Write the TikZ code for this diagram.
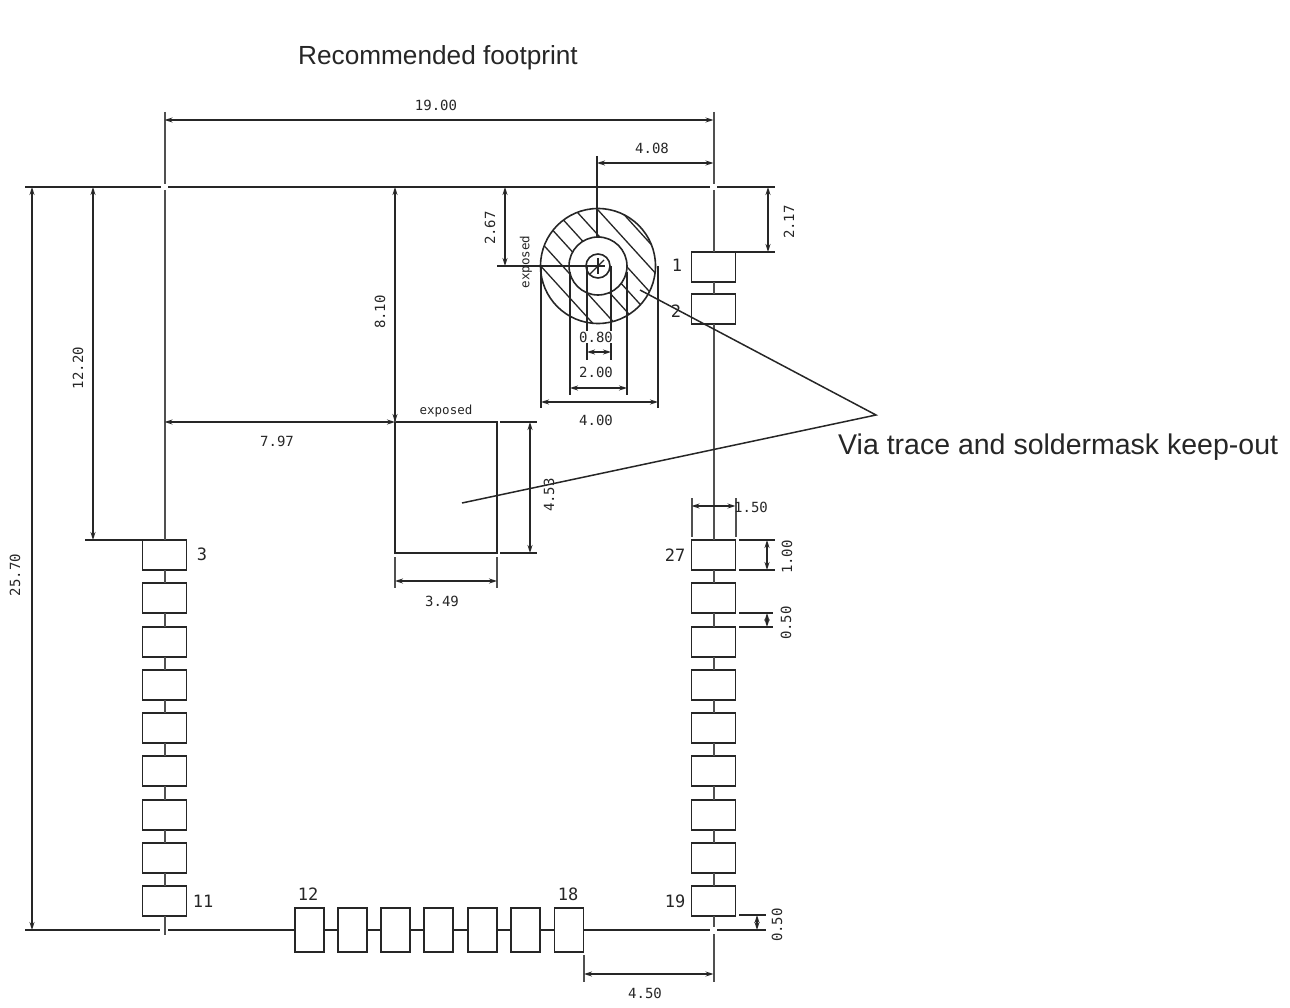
\documentclass[tikz,border=0pt]{standalone}
\usepackage{fontspec}
\setmainfont{Liberation Sans}
\newfontfamily\cadfont{DejaVu Sans Mono}
\usetikzlibrary{arrows.meta}
\definecolor{ink}{HTML}{262626}
\definecolor{soft}{HTML}{505050}
\tikzset{
  line/.style={draw=ink,line width=1.6pt},
  softline/.style={draw=soft,line width=2pt},
  ext/.style={draw=ink,line width=1.4pt},
  dimline/.style={draw=ink,line width=1.2pt,{Stealth[length=8pt,width=5pt]}-{Stealth[length=8pt,width=5pt]}},
  padv/.style={draw=ink,line width=1.8pt,rectangle,minimum width=44pt,minimum height=30pt,inner sep=0pt,outer sep=0pt},
  padh/.style={draw=ink,line width=1.8pt,rectangle,minimum width=29pt,minimum height=44pt,inner sep=0pt,outer sep=0pt},
  dimtext/.style={font=\cadfont\fontsize{14}{14}\selectfont,text=ink,inner sep=0pt},
  pinlabel/.style={font=\cadfont\fontsize{17}{17}\selectfont,text=ink,inner sep=0pt},
  headtext/.style={font=\fontsize{26.2}{26.2}\selectfont,text=ink,inner sep=0pt},
  viatext/.style={font=\fontsize{28.5}{28.5}\selectfont,text=ink,inner sep=0pt},
  hatch/.style={draw=ink,line width=1.3pt},
  leader/.style={draw=ink,line width=1.5pt}
}
\begin{document}
\begin{tikzpicture}[x=1pt,y=-1pt]
\useasboundingbox (0,0) rectangle (1290,1008);
% pads
\foreach \n/\y in {1/555,2/598,3/642,4/685,5/728,6/771,7/815,8/858,9/901}{
  \node[padv] (L\n) at (164.5,\y) {};
  \node[padv] (R\n) at (713.5,\y) {};
}
\node[padv] (P1) at (713.5,267) {};
\node[padv] (P2) at (713.5,309) {};
\foreach \n/\x in {1/309.5,2/352.5,3/395.5,4/438.5,5/482.5,6/525.5,7/569}{
  \node[padh] (B\n) at (\x,930) {};
}
% links between pads
\foreach \a/\b in {1/2,2/3,3/4,4/5,5/6,6/7,7/8,8/9}{
  \draw[softline] (L\a.south) -- (L\b.north);
  \draw[softline] (R\a.south) -- (R\b.north);
}
\foreach \a/\b in {1/2,2/3,3/4,4/5,5/6,6/7}{
  \draw[line] (B\a.east) -- (B\b.west);
}
\draw[softline] (P1.south) -- (P2.north);
% outline and extension lines
\draw[line] (25,187) -- (161,187);
\draw[line] (168,187) -- (710,187);
\draw[line] (717,187) -- (775,187);
\draw[softline] (164.5,112) -- (164.5,184);
\draw[softline] (164.5,190) -- (L1.north);
\draw[softline] (713.5,112) -- (713.5,184);
\draw[softline] (713.5,190) -- (P1.north);
\draw[softline] (P2.south) -- (R1.north);
\draw[softline] (L9.south) -- (164.5,935);
\draw[softline] (R9.south) -- (713.5,927);
\draw[softline] (713.5,934) -- (713.5,982);
\draw[line] (25,930) -- (160,930);
\draw[line] (168,930) -- (B1.west);
\draw[line] (B7.east) -- (710,930);
\draw[line] (717,930) -- (766,930);
% 19.00 4.08 25.70 12.20
\draw[dimline] (164.5,120) -- (713.5,120);
\node[dimtext] (d1900) at (436,105) {19.00};
\draw[ext] (597,156) -- (597,266);
\draw[dimline] (597,163) -- (713.5,163);
\node[dimtext] (d408) at (652,148) {4.08};
\draw[dimline] (32,187) -- (32,930);
\node[dimtext,rotate=90] (d2570) at (15,575) {25.70};
\draw[ext] (85,540) -- (L1.north west);
\draw[dimline] (93,187) -- (93,540);
\node[dimtext,rotate=90] (d1220) at (78,368) {12.20};
% keep-out circles with hatching
\coordinate (C) at (598,266);
\begin{scope}
  \clip (C) circle[radius=57.5];
  \foreach \c in {-80,-56,-31,-8,14,39,63}{
    \draw[hatch] (598-70,266+\c-77) -- (598+70,266+\c+77);
  }
\end{scope}
\fill[white] (C) circle[radius=29];
\draw[line] (C) circle[radius=57.5];
\draw[line] (C) circle[radius=29];
\draw[line] (C) circle[radius=12];
\draw[hatch] (590,274) -- (604,260);
\draw[ext] (589,266) -- (605,266);
\draw[ext] (598,258) -- (598,274);
% 2.67
\draw[ext] (497,266) -- (597,266);
\draw[dimline] (505,187) -- (505,266);
\node[dimtext,rotate=90] (d267) at (490,228) {2.67};
\node[dimtext,rotate=90,font=\cadfont\fontsize{12.5}{12.5}\selectfont] (exv) at (526,262) {exposed};
% stems below the circles
\draw[line] (541,266) -- (541,408);
\draw[line] (658,266) -- (658,408);
\draw[line] (570,272) -- (570,395);
\draw[line] (627,272) -- (627,395);
\draw[line] (587,266) -- (587,360);
\draw[line] (611,266) -- (611,360);
\draw[dimline] (587,352) -- (611,352);
\node[dimtext,fill=white,inner sep=1pt] (d080) at (596,337) {0.80};
\draw[dimline] (570,388) -- (627,388);
\node[dimtext,fill=white,inner sep=1pt] (d200) at (596,372) {2.00};
\draw[dimline] (541,402) -- (658,402);
\node[dimtext] (d400) at (596,420) {4.00};
% 2.17
\draw[ext] (P1.north east) -- (775,252);
\draw[dimline] (768,187) -- (768,252);
\node[dimtext,rotate=90] (d217) at (789,222) {2.17};
% exposed pad
\node[draw=ink,line width=1.8pt,rectangle,minimum width=102pt,minimum height=131pt,inner sep=0pt,outer sep=0pt] (EP) at (446,487.5) {};
\node[dimtext,font=\cadfont\fontsize{12.5}{12.5}\selectfont] (ext) at (446,411) {exposed};
\draw[softline] (395,190) -- (EP.north west);
\draw[dimline] (395,187) -- (395,422);
\node[dimtext,rotate=90] (d810) at (380,312) {8.10};
\draw[dimline] (164.5,422) -- (395,422);
\node[dimtext] (d797) at (277,441) {7.97};
\draw[ext] (500,422) -- (537,422);
\draw[ext] (500,553) -- (537,553);
\draw[dimline] (530,422) -- (530,553);
\node[dimtext,rotate=90] (d453) at (549,495) {4.53};
\draw[softline] (395,557) -- (395,588);
\draw[softline] (497,557) -- (497,588);
\draw[dimline] (395,581) -- (497,581);
\node[dimtext] (d349) at (442,601) {3.49};
% pad dims
\draw[softline] (691.5,498) -- (691.5,537);
\draw[softline] (735.5,498) -- (735.5,537);
\draw[dimline] (691.5,506) -- (735.5,506);
\node[dimtext] (d150) at (751,507) {1.50};
\draw[ext] (739,540) -- (775,540);
\draw[ext] (739,570) -- (775,570);
\draw[dimline] (767,540) -- (767,570);
\node[dimtext,rotate=90] (d100) at (787,557) {1.00};
\draw[ext] (739,613) -- (773,613);
\draw[ext] (739,627) -- (773,627);
\draw[dimline] (767,613) -- (767,627);
\node[dimtext,rotate=90] (d050a) at (786,623) {0.50};
\draw[ext] (739,915) -- (766,915);
\draw[dimline] (757,915) -- (757,930);
\node[dimtext,rotate=90] (d050b) at (777,925) {0.50};
\draw[softline] (584,955) -- (584,982);
\draw[dimline] (584,974) -- (713.5,974);
\node[dimtext] (d450) at (645,993) {4.50};
% pin labels
\node[pinlabel] (n1) at (677,265) {1};
\node[pinlabel] (n2) at (676,311) {2};
\node[pinlabel] (n3) at (202,554) {3};
\node[pinlabel] (n11) at (203,901) {11};
\node[pinlabel] (n12) at (308,894) {12};
\node[pinlabel] (n18) at (568,894) {18};
\node[pinlabel] (n19) at (675,901) {19};
\node[pinlabel] (n27) at (675,555) {27};
% titles and leaders
\node[headtext,anchor=center] (head) at (438,57.5) {Recommended footprint};
\node[viatext,anchor=west] (via) at (838,447.5) {Via trace and soldermask keep-out};
\coordinate (V) at (876,415);
\coordinate (Va) at (640,290);
\coordinate (Vb) at (462,503);
\draw[leader] (Va) -- (V) -- (Vb);
\end{tikzpicture}
\end{document}
